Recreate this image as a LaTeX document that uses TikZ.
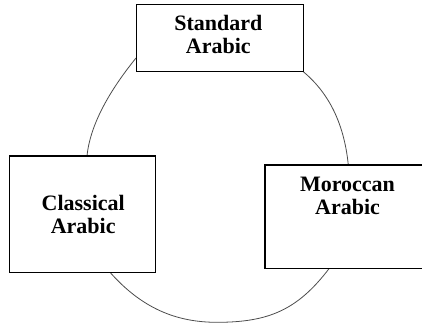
\documentclass[tikz,border=0pt]{standalone}
\usepackage{fontspec}
\setmainfont{Liberation Serif}
\begin{document}
\begin{tikzpicture}[x=1pt,y=-1pt,
  box/.style={draw=black,line width=1.5pt,fill=white,inner sep=0pt},
  lbl/.style={inner sep=0pt,align=center,font=\fontsize{22}{22.7}\selectfont\bfseries},
  link/.style={draw=black!70,line width=0.8pt}]
\useasboundingbox (0,0) rectangle (422,324);

% links between the three varieties (drawn first, boxes cover their ends)
\coordinate (s1) at (136,58);
\coordinate (c1) at (87,156);
\coordinate (s2) at (303.3,71.7);
\coordinate (m1) at (348.3,165);
\coordinate (c2) at (110,272.3);
\coordinate (bot) at (217,322.3);
\coordinate (m2) at (329.3,268.3);
\draw[link] (s1) .. controls (113.95,85.3) and (90.5,121) .. (c1);
\draw[link] (s2) .. controls (326.4,90.9) and (343.8,120) .. (m1);
\draw[link] (c2) .. controls (141.9,308.2) and (176,322.3) .. (bot)
                 .. controls (269,322.3) and (297.8,309.7) .. (m2);

% boxes
\node[box,minimum width=166.6pt,minimum height=67pt] (std) at (220,38.2) {};
\node[box,minimum width=146pt,minimum height=116.3pt] (cls) at (82.7,214.2) {};
\node[box,minimum width=167pt,minimum height=103.3pt] (mor) at (348.5,216.7) {};

% labels
\node[lbl,anchor=north] (stdtext) at (218.3,15.4) {Standard\\Arabic};
\node[lbl,anchor=north] (clstext) at (83.2,195.1) {Classical\\Arabic};
\node[lbl,anchor=north] (mortext) at (347.5,177.1) {Moroccan\\Arabic};
\end{tikzpicture}
\end{document}
